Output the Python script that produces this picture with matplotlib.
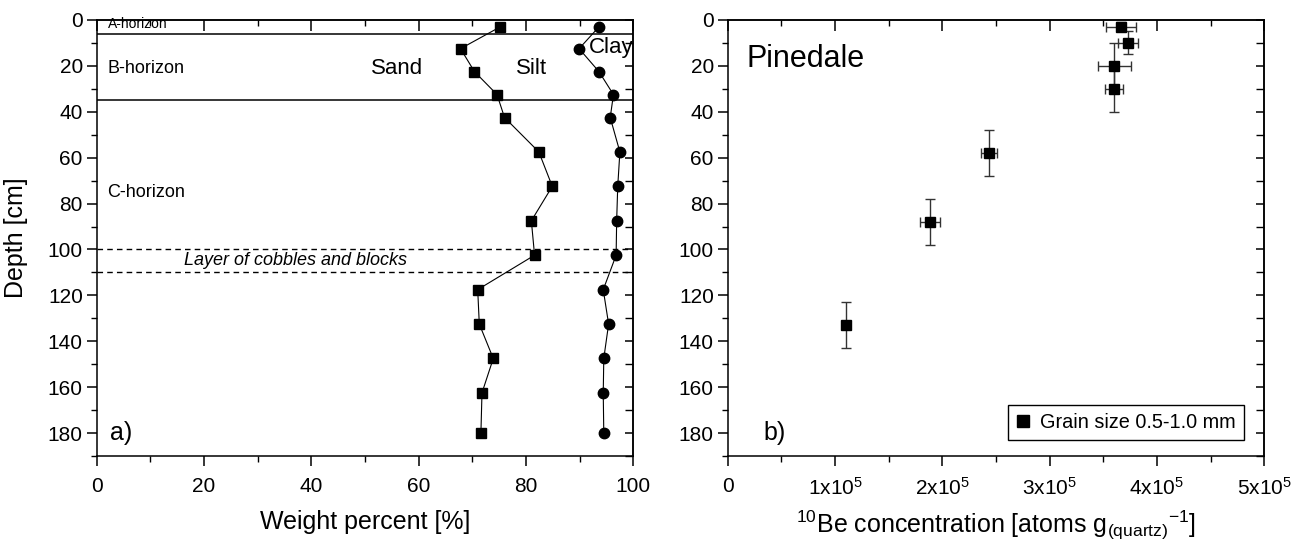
import matplotlib.pyplot as plt
from matplotlib.ticker import MultipleLocator, FuncFormatter
from matplotlib.lines import Line2D

plt.rcParams.update({
    "font.family": "Liberation Sans",
    "mathtext.fontset": "custom",
    "mathtext.rm": "Liberation Sans",
    "mathtext.it": "Liberation Sans:italic",
    "mathtext.bf": "Liberation Sans:bold",
    "axes.linewidth": 1.1,
})

# panel a: grain size distribution with depth
depth_a = [3, 12.5, 22.5, 32.5, 42.5, 57.5, 72.5, 87.5, 102.5, 117.5, 132.5, 147.5, 162.5, 180]
sand = [75.2, 67.8, 70.4, 74.6, 76.0, 82.4, 84.9, 81.0, 81.6, 71.0, 71.3, 73.9, 71.8, 71.6]
sand_silt = [93.6, 89.9, 93.6, 96.3, 95.7, 97.5, 97.1, 96.9, 96.8, 94.4, 95.4, 94.5, 94.4, 94.5]
horizon_solid = [6, 35]
horizon_dashed = [100, 110]

# panel b: 10Be profile
depth_b = [3, 10, 20, 30, 58, 88, 133]
depth_err = [2, 5, 10, 10, 10, 10, 10]
be10 = [3.665e5, 3.727e5, 3.603e5, 3.603e5, 2.436e5, 1.889e5, 1.103e5]
be10_err = [1.4e4, 9.3e3, 1.55e4, 8.3e3, 7.2e3, 9.3e3, 1.5e3]


def style_axes(ax, xmajor, xminor):
    ax.set_ylim(190, 0)
    ax.yaxis.set_major_locator(MultipleLocator(20))
    ax.yaxis.set_minor_locator(MultipleLocator(10))
    ax.xaxis.set_major_locator(MultipleLocator(xmajor))
    ax.xaxis.set_minor_locator(MultipleLocator(xminor))
    ax.tick_params(which="major", direction="out", length=7, width=1.1, labelsize=15)
    ax.tick_params(which="minor", direction="out", length=4.5, width=1.0)
    ax.tick_params(axis="x", pad=8)
    ax.tick_params(axis="y", pad=3)
    top = ax.secondary_xaxis("top")
    top.xaxis.set_major_locator(MultipleLocator(xmajor))
    top.xaxis.set_minor_locator(MultipleLocator(xminor))
    top.tick_params(which="major", direction="in", length=8, width=1.1, labeltop=False)
    top.tick_params(which="minor", direction="in", length=4, width=1.0)
    right = ax.secondary_yaxis("right")
    right.yaxis.set_major_locator(MultipleLocator(20))
    right.yaxis.set_minor_locator(MultipleLocator(10))
    right.tick_params(which="major", direction="in", length=6, width=1.1, labelright=False)
    right.tick_params(which="minor", direction="in", length=6, width=1.0)


fig = plt.figure(figsize=(13.02, 5.52), dpi=100)
ax_a = fig.add_axes([0.0743, 0.1739, 0.4121, 0.7899])
ax_b = fig.add_axes([0.5589, 0.1739, 0.4121, 0.7899])

# ---- panel a
for d in horizon_solid:
    ax_a.axhline(d, color="k", lw=1.1)
for d in horizon_dashed:
    ax_a.axhline(d, color="k", lw=1.0, ls=(0, (4, 3)))
ax_a.plot(sand, depth_a, color="k", lw=0.8, marker="s", ms=7)
ax_a.plot(sand_silt, depth_a, color="k", lw=0.8, marker="o", ms=7.5)
ax_a.set_xlim(0, 100)
style_axes(ax_a, 20, 10)
ax_a.set_xlabel("Weight percent [%]", fontsize=18, labelpad=10)
ax_a.set_ylabel("Depth [cm]", fontsize=18)
ax_a.yaxis.set_label_coords(-0.128, 0.5)

ax_a.text(2, 4.6, "A-horizon", fontsize=10, va="bottom")
ax_a.text(2, 21, "B-horizon", fontsize=13, va="center")
ax_a.text(2, 75, "C-horizon", fontsize=13, va="center")
ax_a.text(56, 21, "Sand", fontsize=16, va="center", ha="center")
ax_a.text(81, 21, "Silt", fontsize=16, va="center", ha="center")
ax_a.text(100, 12, "Clay", fontsize=16, va="center", ha="right")
ax_a.text(16.2, 105, "Layer of cobbles and blocks", fontsize=13, style="italic", va="center")
ax_a.text(2.5, 180, "a)", fontsize=18, va="center")

# ---- panel b
ax_b.errorbar(be10, depth_b, xerr=be10_err, yerr=depth_err, fmt="s", color="k",
              ms=7, ecolor="#333333", elinewidth=1.0, capsize=3.5, capthick=1.0)
ax_b.set_xlim(0, 5e5)
style_axes(ax_b, 1e5, 0.5e5)
ax_b.xaxis.set_major_formatter(
    FuncFormatter(lambda v, p: "0" if v == 0 else r"%dx10$^{5}$" % round(v / 1e5)))
ax_b.set_xlabel(r"$^{10}$Be concentration [atoms g$_{\mathrm{(quartz)}}$$^{-1}$]",
                fontsize=18, labelpad=7)
ax_b.text(0.035, 0.91, "Pinedale", transform=ax_b.transAxes, fontsize=22, va="center")
ax_b.text(10000 * 3.3, 180, "b)", fontsize=18, va="center")
ax_b.legend(handles=[Line2D([], [], marker="s", color="k", ls="none", ms=8.5)],
            labels=["Grain size 0.5-1.0 mm"], loc="lower right",
            bbox_to_anchor=(0.962, 0.036), borderaxespad=0, frameon=True,
            fancybox=False, edgecolor="k", framealpha=1, fontsize=14.3,
            handlelength=0.8, handletextpad=0.45, borderpad=0.4)

fig.savefig("out.png", dpi=100)
